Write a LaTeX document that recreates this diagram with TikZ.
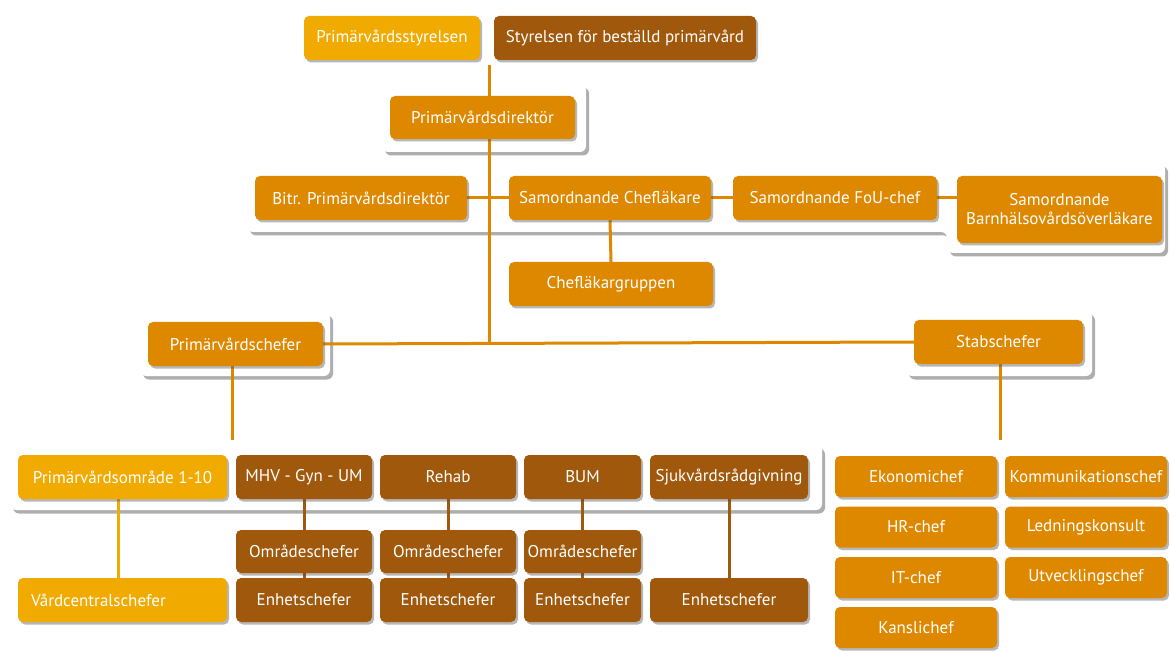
\documentclass[tikz,border=0pt]{standalone}
\usepackage{fontspec}
\setmainfont{PT Sans}
\usetikzlibrary{shadows}
\definecolor{cyel}{HTML}{F0AA00}
\definecolor{corg}{HTML}{DE8800}
\definecolor{cbrn}{HTML}{A0590C}
\pgfdeclarelayer{bgfill}
\pgfdeclarelayer{panel}
\pgfdeclarelayer{lines}
\pgfsetlayers{bgfill,panel,lines,main}
\tikzset{
  box/.style={rounded corners=5pt, text=white, font=\fontsize{17}{19}\selectfont,
    inner sep=2pt, minimum height=44pt, align=center,
    drop shadow={shadow xshift=2pt, shadow yshift=-2.5pt, opacity=0.4, fill=black!70}},
  ybox/.style={box, fill=cyel},
  obox/.style={box, fill=corg},
  bbox/.style={box, fill=cbrn},
  panelbox/.style={fill=white, rounded corners=6pt,
    drop shadow={shadow xshift=3pt, shadow yshift=-3.5pt, opacity=0.45, fill=black!70}},
  oline/.style={draw=corg, line width=3pt},
  bline/.style={draw=cbrn, line width=3pt},
  yline/.style={draw=cyel, line width=3pt},
}
\begin{document}
\begin{tikzpicture}[x=1pt,y=-1pt]
\begin{pgfonlayer}{bgfill}
\fill[white] (0,0) rectangle (1170,652);
\end{pgfonlayer}
\useasboundingbox (0,0) rectangle (1170,652);

% panels
\begin{pgfonlayer}{panel}
\path[panelbox] (382,84) rectangle (586,152);
\path[panelbox] (247,163) -- (1165,163) -- (1165,253) -- (947,253) -- (947,232) -- (247,232) -- cycle;
\path[panelbox] (140,312) rectangle (330,376);
\path[panelbox] (906,311) rectangle (1092,376);
\path[panelbox] (10,445) rectangle (822,510);
\end{pgfonlayer}

% nodes
\node[ybox, minimum width=176pt] (ps) at (392,38) {Primärvårdsstyrelsen};
\node[bbox, minimum width=262pt] (sb) at (625,38) {Styrelsen för beställd primärvård};
\node[obox, minimum width=185pt, minimum height=43pt] (pd) at (482.5,117.5) {Primärvårdsdirektör};

\node[obox, minimum width=212pt] (bp) at (361,198) {Bitr. Primärvårdsdirektör};
\node[obox, minimum width=202pt] (sc) at (610,198) {Samordnande Chefläkare};
\node[obox, minimum width=204pt] (fou) at (835,198) {Samordnande FoU-chef};
\node[obox, minimum width=205pt, minimum height=67pt] (bhv) at (1059.5,209.5) {Samordnande\\Barnhälsovårdsöverläkare};
\node[obox, minimum width=204pt] (clg) at (611,284) {Chefläkargruppen};

\node[obox, minimum width=175pt] (pvc) at (235.5,344) {Primärvårdschefer};
\node[obox, minimum width=169pt] (stab) at (998.5,342) {Stabschefer};

\node[ybox, minimum width=209pt] (pvo) at (122.5,477) {Primärvårdsområde 1-10};
\node[bbox, minimum width=136pt] (mhv) at (304,477) {MHV - Gyn - UM};
\node[bbox, minimum width=136pt] (reh) at (448,477) {Rehab};
\node[bbox, minimum width=117pt] (bum) at (582.5,477) {BUM};
\node[bbox, minimum width=158pt] (sjv) at (729,477) {Sjukvårdsrådgivning};

\node[ybox, minimum width=209pt, text width=183pt, align=left] (vcs) at (122.5,600) {Vårdcentralschefer};
\node[bbox, minimum width=136pt, minimum height=43pt] (oc1) at (304,551.5) {Områdeschefer};
\node[bbox, minimum width=136pt, minimum height=43pt] (oc2) at (448,551.5) {Områdeschefer};
\node[bbox, minimum width=117pt, minimum height=43pt] (oc3) at (582.5,551.5) {Områdeschefer};
\node[bbox, minimum width=136pt] (ec1) at (304,600) {Enhetschefer};
\node[bbox, minimum width=136pt] (ec2) at (448,600) {Enhetschefer};
\node[bbox, minimum width=117pt] (ec3) at (582.5,600) {Enhetschefer};
\node[bbox, minimum width=158pt] (ec4) at (729,600) {Enhetschefer};

\node[obox, minimum width=162pt, minimum height=41pt] (eko) at (916,476.5) {Ekonomichef};
\node[obox, minimum width=162pt, minimum height=41pt] (kom) at (1086,476.5) {Kommunikationschef};
\node[obox, minimum width=162pt, minimum height=41pt] (hr) at (916,527) {HR-chef};
\node[obox, minimum width=162pt, minimum height=41pt] (led) at (1086,527) {Ledningskonsult};
\node[obox, minimum width=162pt, minimum height=41pt] (it) at (916,577.5) {IT-chef};
\node[obox, minimum width=162pt, minimum height=41pt] (utv) at (1086,577.5) {Utvecklingschef};
\node[obox, minimum width=162pt, minimum height=41pt] (kan) at (916,627.5) {Kanslichef};

\coordinate (top) at (489,65);
\coordinate (spine) at (489,344);
\coordinate (pvcend) at (232,440);
\coordinate (stabend) at (1000,440);

% connectors
\begin{pgfonlayer}{lines}
\draw[oline] (top) -- (spine);
\draw[oline] (pvc.east) -- (stab.west);
\draw[oline] (bp.east) -- (sc.west);
\draw[oline] (sc.east) -- (fou.west);
\draw[oline] (fou.east) -- (fou.east -| bhv.west);
\draw[oline] (sc.south) -- (clg.north);
\draw[oline] (pvc.south -| pvcend) -- (pvcend);
\draw[oline] (stab.south -| stabend) -- (stabend);
\draw[yline] (pvo.south -| 118,0) -- (vcs.north -| 118,0);
\draw[bline] (mhv.south) -- (ec1.north);
\draw[bline] (reh.south) -- (ec2.north);
\draw[bline] (bum.south) -- (ec3.north);
\draw[bline] (sjv.south) -- (ec4.north);
\end{pgfonlayer}
\end{tikzpicture}
\end{document}
